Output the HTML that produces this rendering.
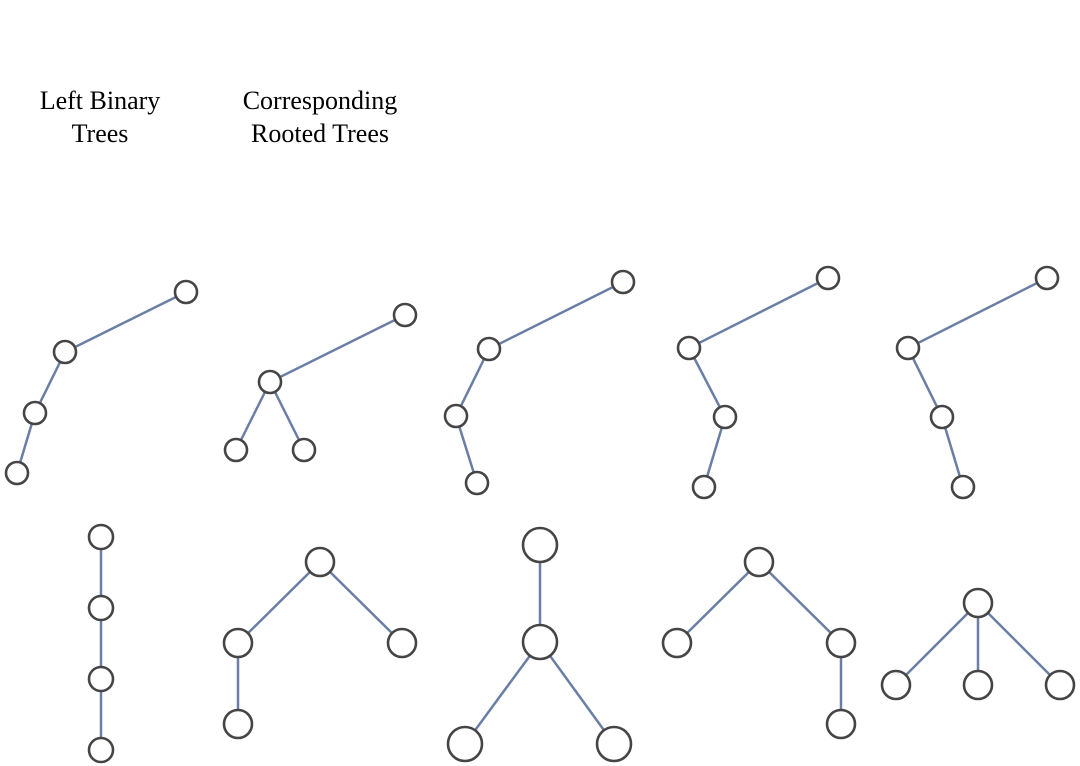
<!DOCTYPE html>
<html><head><meta charset="utf-8"><style>
html,body{margin:0;padding:0;background:#fff;width:1080px;height:766px;overflow:hidden}
svg{display:block}
text{font-family:"Liberation Serif",serif;font-size:26px;fill:#000}
.e{stroke:#6a7ea6;stroke-width:2.5;fill:none}
.n{stroke:#454545;stroke-width:2.6;fill:#fff}
</style></head><body>
<svg width="1080" height="766" viewBox="0 0 1080 766">
<text x="100" y="109" text-anchor="middle">Left Binary</text>
<text x="100" y="142" text-anchor="middle">Trees</text>
<text x="320" y="109" text-anchor="middle">Corresponding</text>
<text x="320" y="142" text-anchor="middle">Rooted Trees</text>

<g class="e">
<polyline points="186,292 65,352 35,413 17,473"/>
<polyline points="405,315 270,382 236,450"/><line x1="270" y1="382" x2="304" y2="450"/>
<polyline points="623,282 489,349 456,416 477,483"/>
<polyline points="828,278 689,348 725,417 704,487"/>
<polyline points="1047,278 908,348 942,417 963,487"/>
</g>
<g class="n">
<circle cx="186" cy="292" r="11"/><circle cx="65" cy="352" r="11"/><circle cx="35" cy="413" r="11"/><circle cx="17" cy="473" r="11"/>
<circle cx="405" cy="315" r="11"/><circle cx="270" cy="382" r="11"/><circle cx="236" cy="450" r="11"/><circle cx="304" cy="450" r="11"/>
<circle cx="623" cy="282" r="11"/><circle cx="489" cy="349" r="11"/><circle cx="456" cy="416" r="11"/><circle cx="477" cy="483" r="11"/>
<circle cx="828" cy="278" r="11"/><circle cx="689" cy="348" r="11"/><circle cx="725" cy="417" r="11"/><circle cx="704" cy="487" r="11"/>
<circle cx="1047" cy="278" r="11"/><circle cx="908" cy="348" r="11"/><circle cx="942" cy="417" r="11"/><circle cx="963" cy="487" r="11"/>
</g>

<g class="e">
<line x1="101" y1="537" x2="101" y2="750"/>
<polyline points="238,724 238,643 320,562 402,643"/>
<line x1="540" y1="545" x2="540" y2="642"/><polyline points="465,744 540,642 614,744"/>
<polyline points="677,643 759,562 841,643 841,724"/>
<line x1="978" y1="603" x2="896" y2="685"/><line x1="978" y1="603" x2="978" y2="685"/><line x1="978" y1="603" x2="1060" y2="685"/>
</g>
<g class="n">
<circle cx="101" cy="537" r="12"/><circle cx="101" cy="608" r="12"/><circle cx="101" cy="679" r="12"/><circle cx="101" cy="750" r="12"/>
<circle cx="320" cy="562" r="14"/><circle cx="238" cy="643" r="14"/><circle cx="402" cy="643" r="14"/><circle cx="238" cy="724" r="14"/>
<circle cx="540" cy="545" r="17"/><circle cx="540" cy="642" r="17"/><circle cx="465" cy="744" r="17"/><circle cx="614" cy="744" r="17"/>
<circle cx="759" cy="562" r="14"/><circle cx="677" cy="643" r="14"/><circle cx="841" cy="643" r="14"/><circle cx="841" cy="724" r="14"/>
<circle cx="978" cy="603" r="14"/><circle cx="896" cy="685" r="14"/><circle cx="978" cy="685" r="14"/><circle cx="1060" cy="685" r="14"/>
</g>
</svg>
</body></html>
